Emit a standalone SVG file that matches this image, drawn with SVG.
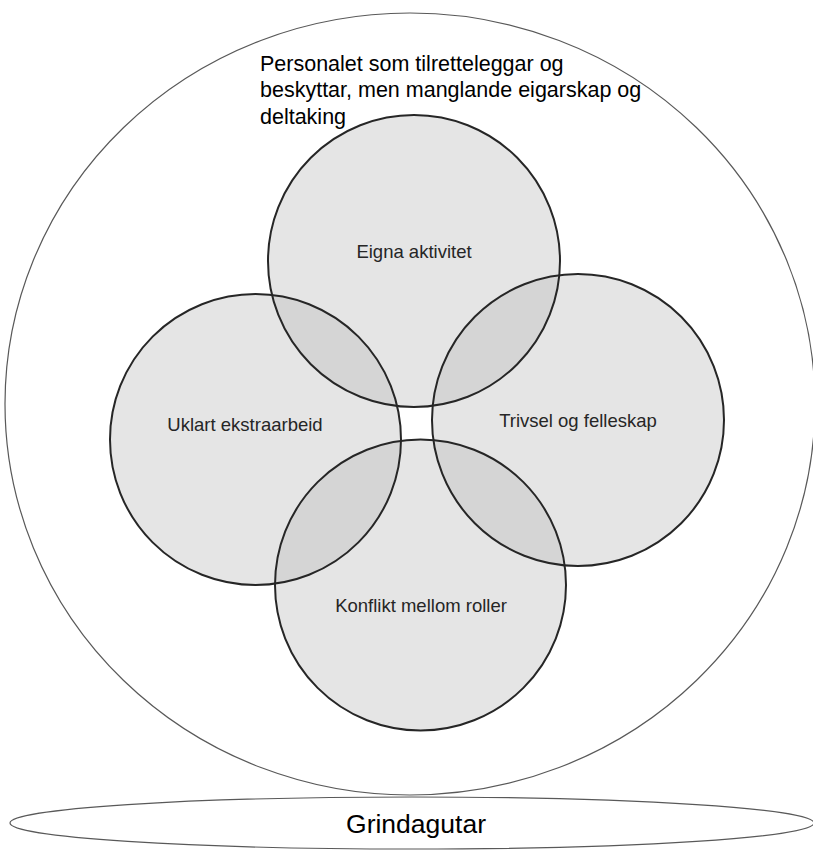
<svg xmlns="http://www.w3.org/2000/svg" width="813" height="850" viewBox="0 0 813 850">
  <style>
    .outer { fill: none; stroke: #595959; stroke-width: 1.2; }
    .c { fill: #bfbfbf; fill-opacity: 0.4; stroke: none; }
    .ring { fill: none; stroke: #262626; stroke-width: 2; }
    .lbl { font-family: "Liberation Sans", Arial, sans-serif; font-size: 18.5px; fill: #262626; text-anchor: middle; }
    .big { font-family: "Liberation Sans", Arial, sans-serif; font-size: 21.5px; fill: #000; }
    .base { font-family: "Liberation Sans", Arial, sans-serif; font-size: 26.5px; fill: #000; text-anchor: middle; }
  </style>
  <defs>
    <circle id="cE" cx="414" cy="261" r="146"/>
    <circle id="cU" cx="255.5" cy="439.5" r="145.5"/>
    <circle id="cT" cx="578" cy="420" r="146"/>
    <circle id="cK" cx="420.5" cy="585" r="145.5"/>
  </defs>
  <rect width="813" height="850" fill="#fff"/>
  <g id="personalet">
    <ellipse class="outer" cx="410" cy="404" rx="405" ry="391"/>
    <text class="big" x="260" y="71">Personalet som tilretteleggar og</text>
    <text class="big" x="260" y="97">beskyttar, men manglande eigarskap og</text>
    <text class="big" x="260" y="124">deltaking</text>
  </g>
  <g id="grindagutar">
    <ellipse class="outer" cx="412" cy="823" rx="402" ry="26"/>
    <text class="base" x="416" y="833">Grindagutar</text>
  </g>
  <g id="eigna">
    <use href="#cE" class="c"/>
    <text class="lbl" x="414" y="258">Eigna aktivitet</text>
  </g>
  <g id="uklart">
    <use href="#cU" class="c"/>
    <text class="lbl" x="245" y="431">Uklart ekstraarbeid</text>
  </g>
  <g id="trivsel">
    <use href="#cT" class="c"/>
    <text class="lbl" x="578" y="427">Trivsel og felleskap</text>
  </g>
  <g id="konflikt">
    <use href="#cK" class="c"/>
    <text class="lbl" x="421" y="612">Konflikt mellom roller</text>
  </g>
  <g id="outlines">
    <use href="#cE" class="ring"/>
    <use href="#cU" class="ring"/>
    <use href="#cT" class="ring"/>
    <use href="#cK" class="ring"/>
  </g>
  <g id="connectors"></g>
</svg>
